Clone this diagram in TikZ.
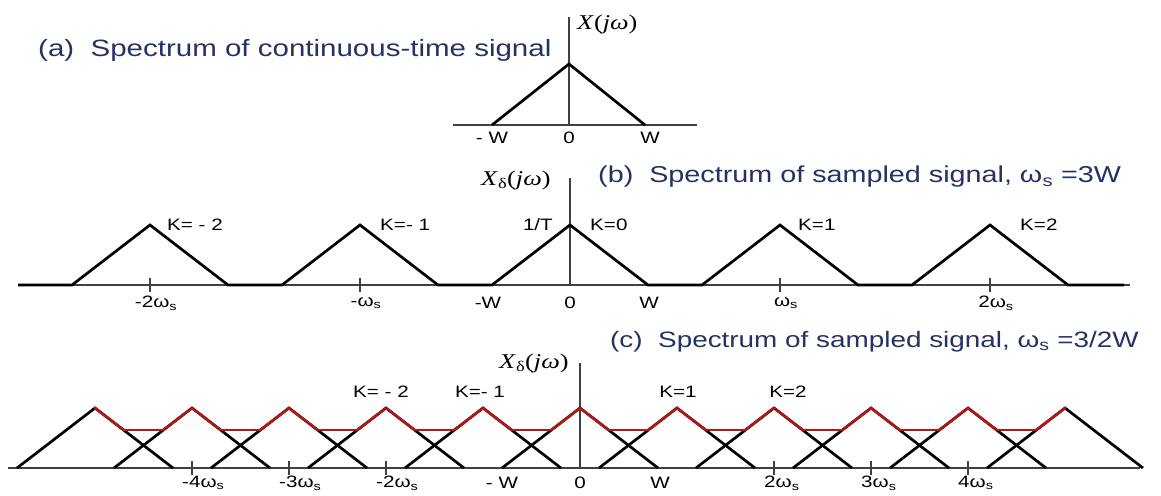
\documentclass[tikz,border=0pt]{standalone}
\usepackage{fontspec}
\setmainfont{Liberation Sans}[FakeStretch=1.25]
\newfontfamily\specserif{Liberation Serif}[FakeStretch=1.25]
\usepackage{xcolor}
\usetikzlibrary{calc}
\definecolor{titleblue}{RGB}{36,50,100}
\definecolor{aliasred}{RGB}{178,24,24}
\newcommand{\wsub}{ω\textsubscript{s}}
\newcommand{\specfn}[1]{{\specserif\textit{X}#1(\textit{jω})}}
\tikzset{
    spectitle/.style={anchor=west, font=\fontsize{23}{26}\selectfont, text=titleblue, inner sep=0pt},
    ticklabel/.style={font=\fontsize{16.5}{18}\selectfont, inner sep=0pt},
    klabel/.style={font=\fontsize{16.5}{18}\selectfont, inner sep=0pt},
    fnlabel/.style={anchor=west, font=\fontsize{21}{23}\selectfont, inner sep=0pt},
    specaxis/.style={line width=1.1pt, black!75},
    speccurve/.style={line width=2.7pt, black},
    aliascurve/.style={line width=2.5pt, aliasred, line cap=round},
    aliasflat/.style={line width=1.3pt, aliasred}
}
\begin{document}
\begin{tikzpicture}[x=1pt,y=-1pt]
    \useasboundingbox (0,0) rectangle (1161,495);

    % (a) continuous-time spectrum
    \node[spectitle, font=\fontsize{23.6}{26}\selectfont] (titlea) at (38,50) {(a)\ \ Spectrum of continuous-time signal};
    \draw[specaxis] (453,125) -- (697,125);
    \draw[specaxis] (569,17) -- (569,125);
    \draw[speccurve] (492,125) -- (569,64) -- (645,125);
    \node[fnlabel] (fna) at (577,24) {\specfn{}};
    \foreach \x/\t [count=\i] in {492/- W, 569/0, 650/W}
        \node[ticklabel] (la\i) at (\x,138) {\t};

    % (b) sampled, ws = 3W
    \node[spectitle] (titleb) at (598,177) {(b)\ \ Spectrum of sampled signal, \wsub{} =3W};
    \draw[specaxis] (18,285) -- (1130,285);
    \draw[specaxis] (570,178) -- (570,285);
    \draw[speccurve] (18,285)
        \foreach \k in {-2,...,2} { -- ({570+210*\k-78},285) -- ({570+210*\k},225) -- ({570+210*\k+78},285) }
        -- (1124,285);
    \node[fnlabel] (fnb) at (481,180) {\specfn{\textsubscript{δ}}};
    \foreach \k/\t in {-2/-2\wsub, -1/-\wsub, 1/\wsub, 2/2\wsub} {
        \draw[specaxis] ({570+210*\k},278) -- ++(0,14);
        \node[ticklabel] (tb\k) at ({576+210*\k},303) {\t};
    }
    \foreach \x/\t [count=\i] in {488/-W, 570/0, 649/W}
        \node[ticklabel] (lb\i) at (\x,303) {\t};
    \foreach \x/\t [count=\i] in {167/K= - 2, 380/K=- 1, 590/K=0, 798/K=1, 1020/K=2}
        \node[klabel, anchor=west] (kb\i) at (\x,225) {\t};
    \node[klabel, anchor=east] (amp) at (553,225) {1/T};

    % (c) sampled, ws = 3/2W (aliasing)
    \node[spectitle, font=\fontsize{22.3}{25}\selectfont] (titlec) at (610,342) {(c)\ \ Spectrum of sampled signal, \wsub{} =3/2W};
    \draw[specaxis] (8,468) -- (1140,468);
    \draw[specaxis] (580,363) -- (580,468);
    \foreach \k in {-5,...,5}
        \draw[speccurve] ({580+97*\k-78},468) -- ({580+97*\k},408) -- ({580+97*\k+78},468);
    \foreach \k in {-5,...,4} {
        \draw[aliascurve] ({580+97*\k},408) -- ({580+97*\k+28.6},430);
        \draw[aliasflat] ({580+97*\k+28.6},430) -- ({580+97*\k+97-28.6},430);
        \draw[aliascurve] ({580+97*\k+97-28.6},430) -- ({580+97*\k+97},408);
    }
    \node[fnlabel] (fnc) at (499,363) {\specfn{\textsubscript{δ}}};
    \foreach \k/\t in {-4/-4\wsub, -3/-3\wsub, -2/-2\wsub, 2/2\wsub, 3/3\wsub, 4/4\wsub} {
        \draw[specaxis] ({580+97*\k},461) -- ++(0,14);
        \node[ticklabel, anchor=west] (tc\k) at ({580+97*\k-10},483) {\t};
    }
    \foreach \x/\t [count=\i] in {502/- W, 580/0, 660/W}
        \node[ticklabel] (lc\i) at (\x,483) {\t};
    \foreach \x/\t [count=\i] in {381/K= - 2, 480/K=- 1, 678/K=1, 788/K=2}
        \node[klabel] (kc\i) at (\x,392) {\t};
\end{tikzpicture}
\end{document}
